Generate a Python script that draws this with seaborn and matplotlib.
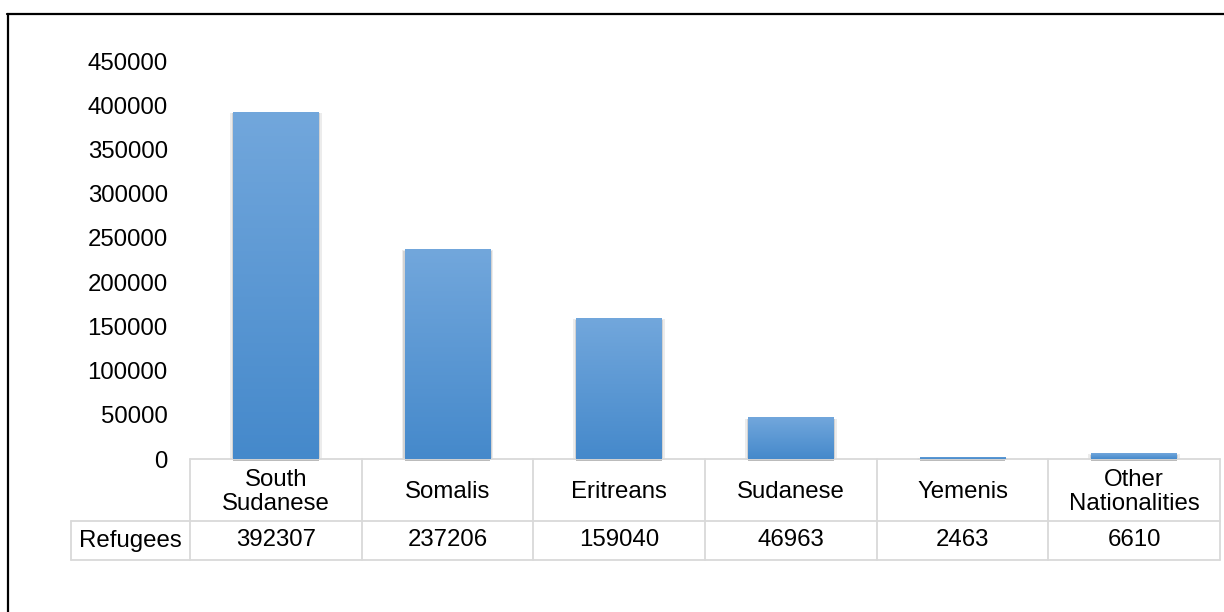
import numpy as np
import pandas as pd
import matplotlib
matplotlib.use("Agg")
import matplotlib.pyplot as plt
import matplotlib.patheffects as pe
from matplotlib.colors import LinearSegmentedColormap
from matplotlib.lines import Line2D
import seaborn as sns

categories = ["South\nSudanese", "Somalis", "Eritreans", "Sudanese", "Yemenis", "Other\nNationalities"]
refugees = [392307, 237206, 159040, 46963, 2463, 6610]
series_name = "Refugees"
yticks = [0, 50000, 100000, 150000, 200000, 250000, 300000, 350000, 400000, 450000]

sns.set_theme(style="white")
plt.rcParams["font.family"] = ["Liberation Sans", "DejaVu Sans"]
FS = 17.3

df = pd.DataFrame({"cat": categories, "val": refugees})

fig = plt.figure(figsize=(12.24, 6.12), dpi=100)
W, H = 1224, 612
ax_left, ax_right, ax_top, ax_bot = 190, 1220, 61, 459
ax = fig.add_axes([ax_left / W, 1 - ax_bot / H, (ax_right - ax_left) / W, (ax_bot - ax_top) / H])

sns.barplot(data=df, x="cat", y="val", ax=ax, color="#5b9bd5", width=0.5, saturation=1,
            linewidth=0)

ax.set_ylim(0, 450000)
ax.set_xlim(-0.5, len(categories) - 0.5)
ax.set_yticks(yticks)
ax.set_yticklabels([str(t) for t in yticks], fontsize=FS, color="black")
ax.tick_params(axis="y", length=0, pad=16)
ax.set_xticks([])
ax.set_xlabel("")
ax.set_ylabel("")
for s in ax.spines.values():
    s.set_visible(False)

cmap = LinearSegmentedColormap.from_list("g", ["#4589cb", "#72a7dc"])
grad = np.linspace(0, 1, 256).reshape(-1, 1)
for p in ax.patches:
    x, y = p.get_x(), p.get_y()
    w, h = p.get_width(), p.get_height()
    p.set_clip_on(False)
    p.set_linewidth(0)
    p.set_path_effects([
        pe.SimplePatchShadow(offset=(-2.0, -0.8), shadow_rgbFace="#999999", alpha=0.18),
        pe.SimplePatchShadow(offset=(2.0, -0.8), shadow_rgbFace="#999999", alpha=0.18),
        pe.SimplePatchShadow(offset=(-1.0, -1.0), shadow_rgbFace="#888888", alpha=0.25),
        pe.SimplePatchShadow(offset=(1.0, -1.0), shadow_rgbFace="#888888", alpha=0.25),
        pe.SimplePatchShadow(offset=(0, -1.5), shadow_rgbFace="#555555", alpha=0.4),
        pe.Normal(),
    ])
    im = ax.imshow(grad, extent=[x, x + w, y, y + h], origin="lower", aspect="auto",
                   cmap=cmap, zorder=p.get_zorder() + 0.1, interpolation="bicubic")
    im.set_clip_path(p)

ax.set_ylim(0, 450000)
ax.set_xlim(-0.5, len(categories) - 0.5)

# data table
n = len(categories)
trans = matplotlib.transforms.blended_transform_factory(ax.transData, ax.transAxes)
axh = ax_bot - ax_top
colw = (ax_right - ax_left) / n
y_head_bot = -(521 - ax_bot) / axh
y_data_bot = -(560 - ax_bot) / axh
x_lab_left = -0.5 - (ax_left - 71) / colw
gc = "#d9d9d9"
glw = 1.3
def ln(xs, ys):
    ax.add_line(Line2D(xs, ys, transform=trans, color=gc, lw=glw, clip_on=False, zorder=1))
ln([-0.5, n - 0.5], [0, 0])
ln([x_lab_left, n - 0.5], [y_head_bot, y_head_bot])
ln([x_lab_left, n - 0.5], [y_data_bot, y_data_bot])
for i in range(n + 1):
    ln([i - 0.5, i - 0.5], [0, y_data_bot])
ln([x_lab_left, x_lab_left], [y_head_bot, y_data_bot])

for i, (c, v) in enumerate(zip(categories, refugees)):
    ax.text(i, y_head_bot / 2 - 0.005, c, transform=trans, ha="center", va="center",
            fontsize=FS, color="black", linespacing=1.15)
    ax.text(i, (y_head_bot + y_data_bot) / 2, str(v), transform=trans, ha="center",
            va="center", fontsize=FS, color="black")
ax.text((x_lab_left - 0.5) / 2, (y_head_bot + y_data_bot) / 2, series_name, transform=trans,
        ha="center", va="center", fontsize=FS, color="black")

# outer frame
fig.add_artist(Line2D([7 / W, 1], [1 - 14 / H, 1 - 14 / H], transform=fig.transFigure,
                      color="black", lw=1.6))
fig.add_artist(Line2D([8 / W, 8 / W], [0, 1 - 14 / H], transform=fig.transFigure,
                      color="black", lw=1.6))

fig.savefig("out.png", dpi=100, facecolor="white")
